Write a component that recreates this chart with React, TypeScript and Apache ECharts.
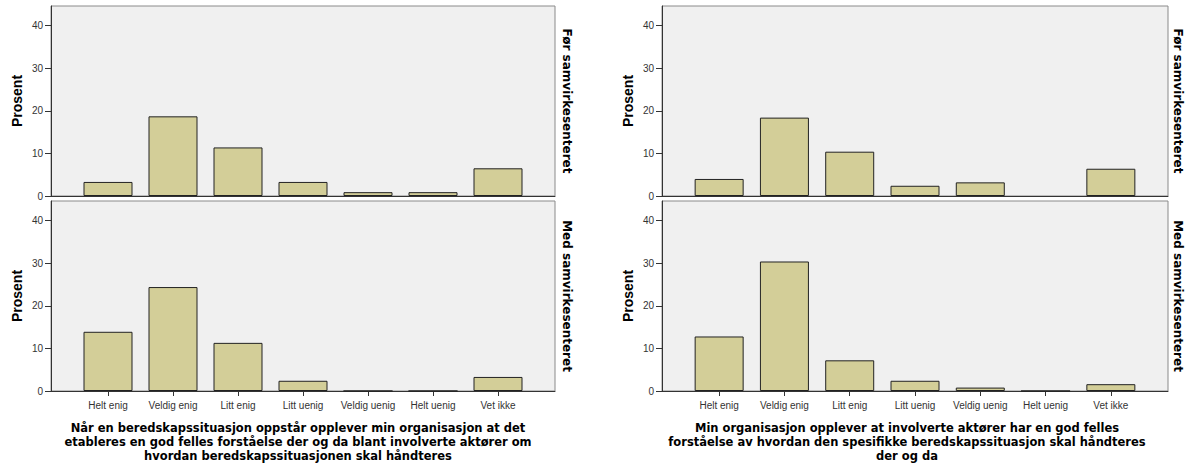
import React, { useEffect, useRef } from "react";
import * as echarts from "echarts";

const categories = ["Helt enig", "Veldig enig", "Litt enig", "Litt uenig", "Veldig uenig", "Helt uenig", "Vet ikke"];
const leftBefore = [3.3, 18.7, 11.4, 3.3, 0.9, 0.9, 6.5];
const leftWith = [13.9, 24.4, 11.3, 2.4, 0, 0, 3.3];
const rightBefore = [4.0, 18.4, 10.4, 2.4, 3.2, null, 6.4];
const rightWith = [12.8, 30.4, 7.2, 2.4, 0.8, 0, 1.6];
const yTicks = [0, 10, 20, 30, 40];
const yMax = 44.6;
const yTitle = "Prosent";
const stripLabels = ["Før samvirkesenteret", "Med samvirkesenteret"];
const leftTitle = [
  "Når en beredskapssituasjon oppstår opplever min organisasjon at det",
  "etableres en god felles forståelse der og da blant involverte aktører om",
  "hvordan beredskapssituasjonen skal håndteres",
];
const rightTitle = [
  "Min organisasjon opplever at involverte aktører har en god felles",
  "forståelse av hvordan den spesifikke beredskapssituasjon skal håndteres",
  "der og da",
];

export default function App() {
  const ref = useRef<HTMLDivElement>(null);
  useEffect(() => {
    document.body.style.margin = "0";
    const chart = echarts.init(ref.current!, undefined, { renderer: "svg" });

    const panels = [
      { left: 51, width: 504, top: 6, data: leftBefore, bottom: false },
      { left: 51, width: 504, top: 201, data: leftWith, bottom: true },
      { left: 662, width: 506, top: 6, data: rightBefore, bottom: false },
      { left: 662, width: 506, top: 201, data: rightWith, bottom: true },
    ];
    const H = 190;
    const inset = 24.5;
    const grids: any[] = [];
    const xAxes: any[] = [];
    const yAxes: any[] = [];
    const series: any[] = [];
    const axisColor = "#333";

    panels.forEach((p) => {
      const oi = grids.length;
      grids.push({
        left: p.left, top: p.top, width: p.width, height: H,
        show: true, backgroundColor: "#f0f0f0", borderColor: "#8a8a8a", borderWidth: 1,
      });
      xAxes.push({
        gridIndex: oi, type: "value", min: 0, max: 1,
        axisLine: { show: true, onZero: false, lineStyle: { color: axisColor, width: 1 } },
        axisTick: { show: false }, axisLabel: { show: false }, splitLine: { show: false },
      });
      yAxes.push({
        gridIndex: oi, type: "value", min: 0, max: yMax,
        axisLine: { show: true, lineStyle: { color: axisColor, width: 1 } },
        axisTick: { show: true, length: 6, customValues: yTicks, lineStyle: { color: axisColor } },
        axisLabel: {
          show: true, customValues: yTicks, margin: 8, color: "#333",
          fontFamily: "Liberation Sans, Arial, sans-serif", fontSize: 10,
        },
        splitLine: { show: false },
      });
      const ii = grids.length;
      grids.push({ left: p.left + inset, top: p.top, width: p.width - 2 * inset, height: H, show: false });
      xAxes.push({
        gridIndex: ii, type: "category", data: categories,
        axisLine: { show: false },
        axisTick: { show: p.bottom, alignWithLabel: true, length: 5, lineStyle: { color: axisColor } },
        axisLabel: {
          show: p.bottom, interval: 0, margin: 9, color: "#333",
          fontFamily: "Liberation Sans, Arial, sans-serif", fontSize: 10,
        },
      });
      yAxes.push({
        gridIndex: ii, type: "value", min: 0, max: yMax, show: false,
      });
      series.push({
        type: "bar", xAxisIndex: ii, yAxisIndex: ii, data: p.data, barWidth: 49,
        itemStyle: { color: "#d3ce98", borderColor: "#222", borderWidth: 1 },
      });
    });

    const graphic: any[] = [];
    const yLabelPos = [
      { x: 17, y: 101 }, { x: 17, y: 296 }, { x: 628, y: 101 }, { x: 628, y: 296 },
    ];
    yLabelPos.forEach((pos) => {
      graphic.push({
        type: "text", x: pos.x, y: pos.y, rotation: Math.PI / 2,
        style: {
          text: yTitle, x: 0, y: 0, align: "center", verticalAlign: "middle",
          font: "bold 14px 'Liberation Sans', Arial, sans-serif", fill: "#000",
        },
      });
    });
    const stripPos = [
      { x: 567, y: 101, t: stripLabels[0] }, { x: 567, y: 296, t: stripLabels[1] },
      { x: 1178, y: 101, t: stripLabels[0] }, { x: 1178, y: 296, t: stripLabels[1] },
    ];
    stripPos.forEach((s) => {
      graphic.push({
        type: "text", x: s.x, y: s.y, rotation: -Math.PI / 2,
        style: {
          text: s.t, x: 0, y: 0, align: "center", verticalAlign: "middle",
          font: "bold 12px 'DejaVu Sans', Verdana, sans-serif", fill: "#000",
        },
      });
    });
    const addTitle = (lines: string[], cx: number) => {
      lines.forEach((line, i) => {
        graphic.push({
          type: "text", x: cx, y: 428 + i * 14,
          style: {
            text: line, x: 0, y: 0, align: "center", verticalAlign: "middle",
            font: "bold 11.5px 'DejaVu Sans', Verdana, sans-serif", fill: "#000",
          },
        });
      });
    };
    addTitle(leftTitle, 298);
    addTitle(rightTitle, 907);

    chart.setOption({
      animation: false,
      backgroundColor: "#fff",
      grid: grids,
      xAxis: xAxes,
      yAxis: yAxes,
      series,
      graphic,
    });
    return () => chart.dispose();
  }, []);
  return <div ref={ref} style={{ width: 1189, height: 464 }} />;
}
